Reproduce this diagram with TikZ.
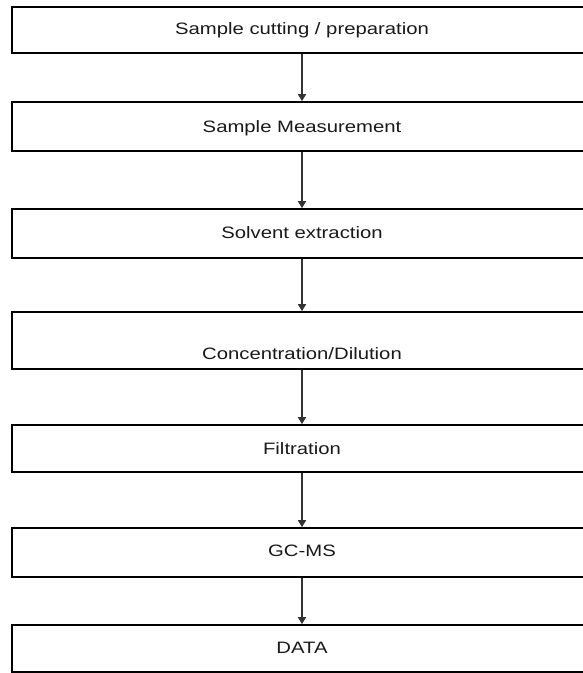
\documentclass[tikz,border=0pt]{standalone}
\usepackage{fontspec}
\setmainfont{Liberation Sans}
\usepackage{graphicx}
\usetikzlibrary{arrows.meta}
\newcommand{\wide}[1]{\scalebox{1.23}[1]{#1}}
\begin{document}
\begin{tikzpicture}[x=1pt,y=-1pt,
  box/.style={draw=black, line width=1.7pt, minimum width=580pt, inner sep=0pt, fill=white},
  lbl/.style={anchor=base, inner sep=0pt, font=\fontsize{16.5}{18}\selectfont, text=black!90},
  flow/.style={draw=black!80, line width=1.6pt, -{Triangle[width=8pt,length=7pt]}}]
\useasboundingbox (0,0) rectangle (582,673);
\node[box, minimum height=46pt] (b1) at (302,30) {};
\node[box, minimum height=49pt] (b2) at (302,126.5) {};
\node[box, minimum height=49pt] (b3) at (302,233.5) {};
\node[box, minimum height=57pt] (b4) at (302,340.5) {};
\node[box, minimum height=47pt] (b5) at (302,448.5) {};
\node[box, minimum height=49pt] (b6) at (302,552.5) {};
\node[box, minimum height=47pt] (b7) at (302,648.5) {};
\node[lbl] (t1) at (302,34) {\wide{Sample cutting / preparation}};
\node[lbl] (t2) at (302,132) {\wide{Sample Measurement}};
\node[lbl] (t3) at (302,238) {\wide{Solvent extraction}};
\node[lbl] (t4) at (302,359) {\wide{Concentration/Dilution}};
\node[lbl] (t5) at (302,454) {\wide{Filtration}};
\node[lbl] (t6) at (302,556) {\wide{GC-MS}};
\node[lbl] (t7) at (302,653) {\wide{DATA}};
\draw[flow] (b1.south) -- (b2.north);
\draw[flow] (b2.south) -- (b3.north);
\draw[flow] (b3.south) -- (b4.north);
\draw[flow] (b4.south) -- (b5.north);
\draw[flow] (b5.south) -- (b6.north);
\draw[flow] (b6.south) -- (b7.north);
\end{tikzpicture}
\end{document}
